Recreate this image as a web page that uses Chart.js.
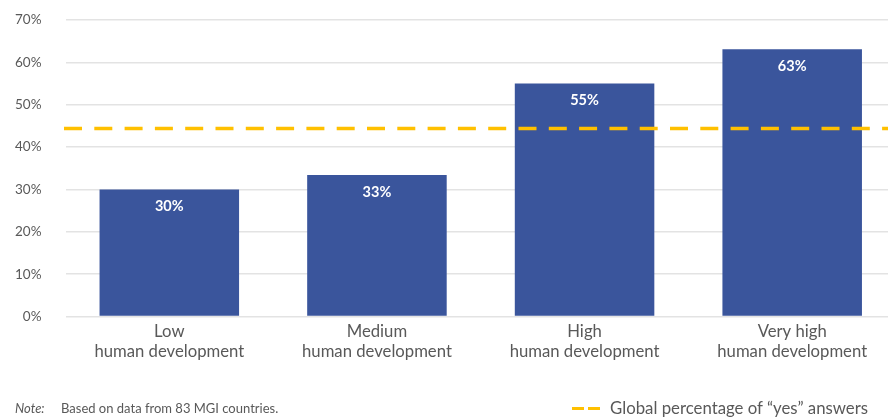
<!DOCTYPE html>
<html>
<head>
<meta charset="utf-8">
<script src="https://cdn.jsdelivr.net/npm/chart.js@4/dist/chart.umd.min.js"></script>
<style>
  html, body { margin: 0; padding: 0; background: #fff; overflow: hidden; width: 888px; height: 419px; }
  #wrap { position: absolute; left: 0; top: 0; width: 900px; height: 419px; }
  .note { position: absolute; left: 15px; top: 400px; font-family: Lato, sans-serif; font-size: 13px; color: #595959; white-space: nowrap; }
  .note i { display: inline-block; width: 46px; }
  .legend { position: absolute; left: 572px; top: 397px; font-family: Lato, sans-serif; font-size: 16.8px; color: #595959; white-space: nowrap; }
  .legend .sw { display: inline-block; width: 12px; height: 3px; background: #FFC000; vertical-align: middle; margin-right: 4px; position: relative; top: -1px; }
</style>
</head>
<body>
<div id="wrap"><canvas id="c" width="900" height="419"></canvas></div>
<div class="note"><i>Note:</i>Based on data from 83 MGI countries.</div>
<div class="legend"><span class="sw"></span><span class="sw" style="margin-right:10px"></span>Global percentage of “yes” answers</div>
<script>
const categories = [["Low", "human development"], ["Medium", "human development"], ["High", "human development"], ["Very high", "human development"]];
const shareYes = [30, 33.4, 55, 63.1];
const barLabels = ["30%", "33%", "55%", "63%"];
const globalShare = 44.4;
const yTicks = [0, 10, 20, 30, 40, 50, 60, 70];

const textColor = "#595959";

const extras = {
  id: "extras",
  afterDatasetsDraw(chart) {
    const ctx = chart.ctx;
    const area = chart.chartArea;
    const y = chart.scales.y.getPixelForValue(globalShare);
    ctx.save();
    ctx.strokeStyle = "#FFC000";
    ctx.lineWidth = 3.5;
    ctx.setLineDash([18, 12.3]);
    ctx.beginPath();
    ctx.moveTo(area.left - 1.5, y);
    ctx.lineTo(area.right, y);
    ctx.stroke();
    ctx.restore();

    const meta = chart.getDatasetMeta(0);
    ctx.save();
    ctx.fillStyle = "#ffffff";
    ctx.font = "bold 14.5px Lato, sans-serif";
    ctx.textAlign = "center";
    ctx.textBaseline = "middle";
    meta.data.forEach((bar, i) => {
      ctx.fillText(barLabels[i], bar.x, bar.y + 17);
    });
    ctx.restore();
  }
};

new Chart(document.getElementById("c"), {
  type: "bar",
  data: {
    labels: categories,
    datasets: [{
      data: shareYes,
      backgroundColor: "#3A559C",
      barPercentage: 0.672,
      categoryPercentage: 1
    }]
  },
  options: {
    responsive: false,
    animation: false,
    events: [],
    layout: { padding: { top: 20, right: 4, left: 0, bottom: 0 } },
    plugins: { legend: { display: false }, tooltip: { enabled: false } },
    scales: {
      x: {
        grid: { display: false, drawTicks: false },
        border: { display: false },
        ticks: { color: textColor, font: { family: "Lato, sans-serif", size: 16.7, lineHeight: 1.15 }, padding: 6, maxRotation: 0, autoSkip: false },
        afterFit(scale) { scale.height = 102.5; scale.paddingTop = 0; scale.paddingBottom = 0; }
      },
      y: {
        min: 0, max: 70,
        afterBuildTicks(scale) { scale.ticks = yTicks.map(v => ({ value: v })); },
        grid: { color: "#e3e3e3", lineWidth: 1.5, drawTicks: false },
        border: { display: false },
        ticks: { color: textColor, font: { family: "Lato, sans-serif", size: 13.5 }, padding: 24, callback: v => v + "%" },
        afterFit(scale) { scale.width = 65.5; scale.paddingTop = 0; scale.paddingBottom = 0; }
      }
    }
  },
  plugins: [extras]
});
</script>
</body>
</html>
